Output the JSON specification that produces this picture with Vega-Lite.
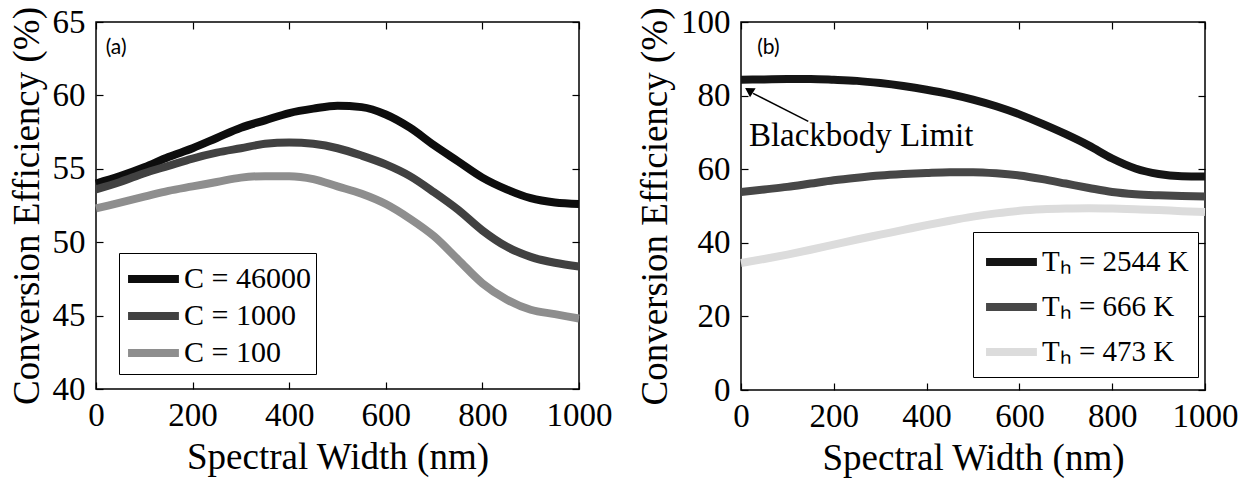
{
  "$schema": "https://vega.github.io/schema/vega-lite/v6.json",
  "background": "white",
  "padding": {"left": 7, "top": 5, "right": 5, "bottom": 5},
  "spacing": 22,
  "config": {
    "font": "Liberation Serif",
    "view": {"stroke": "black", "strokeWidth": 1.5},
    "axis": {
      "grid": false,
      "domain": false,
      "tickColor": "black",
      "tickSize": -7,
      "tickWidth": 1.2,
      "labelFont": "Liberation Serif",
      "labelFontSize": 33,
      "labelColor": "black",
      "labelPadding": 18,
      "labelOverlap": false,
      "labelFlush": false,
      "format": "d",
      "titleFont": "Liberation Serif",
      "titleFontSize": 37,
      "titleFontWeight": "normal",
      "titleColor": "black"
    },
    "axisY": {"titlePadding": 6},
    "axisX": {"titlePadding": 7, "labelPadding": 17},
    "legend": {
      "title": null,
      "orient": "none",
      "symbolType": "M-1,0H2",
      "symbolStrokeWidth": 8,
      "symbolSize": 1150,
      "labelFont": "Liberation Serif",
      "labelFontSize": 30,
      "labelColor": "black",
      "labelOffset": 18,
      "rowPadding": 0,
      "padding": 7,
      "strokeColor": "black",
      "fillColor": "white",
      "symbolOpacity": 1
    }
  },
  "datasets": {
    "a": [
      {"w":0,"eff":54.0,"s":"C = 46000"},{"w":50,"eff":54.5,"s":"C = 46000"},{"w":100,"eff":55.1,"s":"C = 46000"},{"w":150,"eff":55.8,"s":"C = 46000"},{"w":200,"eff":56.4,"s":"C = 46000"},{"w":250,"eff":57.1,"s":"C = 46000"},{"w":300,"eff":57.8,"s":"C = 46000"},{"w":350,"eff":58.3,"s":"C = 46000"},{"w":400,"eff":58.8,"s":"C = 46000"},{"w":450,"eff":59.1,"s":"C = 46000"},{"w":500,"eff":59.3,"s":"C = 46000"},{"w":550,"eff":59.2,"s":"C = 46000"},{"w":600,"eff":58.7,"s":"C = 46000"},{"w":650,"eff":57.8,"s":"C = 46000"},{"w":700,"eff":56.6,"s":"C = 46000"},{"w":750,"eff":55.5,"s":"C = 46000"},{"w":800,"eff":54.4,"s":"C = 46000"},{"w":850,"eff":53.6,"s":"C = 46000"},{"w":900,"eff":53.0,"s":"C = 46000"},{"w":950,"eff":52.7,"s":"C = 46000"},{"w":1000,"eff":52.6,"s":"C = 46000"},
      {"w":0,"eff":53.6,"s":"C = 1000"},{"w":50,"eff":54.1,"s":"C = 1000"},{"w":100,"eff":54.7,"s":"C = 1000"},{"w":150,"eff":55.2,"s":"C = 1000"},{"w":200,"eff":55.7,"s":"C = 1000"},{"w":250,"eff":56.1,"s":"C = 1000"},{"w":300,"eff":56.4,"s":"C = 1000"},{"w":350,"eff":56.7,"s":"C = 1000"},{"w":400,"eff":56.8,"s":"C = 1000"},{"w":450,"eff":56.7,"s":"C = 1000"},{"w":500,"eff":56.4,"s":"C = 1000"},{"w":550,"eff":55.9,"s":"C = 1000"},{"w":600,"eff":55.3,"s":"C = 1000"},{"w":650,"eff":54.5,"s":"C = 1000"},{"w":700,"eff":53.4,"s":"C = 1000"},{"w":750,"eff":52.2,"s":"C = 1000"},{"w":800,"eff":50.8,"s":"C = 1000"},{"w":850,"eff":49.7,"s":"C = 1000"},{"w":900,"eff":49.0,"s":"C = 1000"},{"w":950,"eff":48.6,"s":"C = 1000"},{"w":1000,"eff":48.35,"s":"C = 1000"},
      {"w":0,"eff":52.3,"s":"C = 100"},{"w":50,"eff":52.7,"s":"C = 100"},{"w":100,"eff":53.1,"s":"C = 100"},{"w":150,"eff":53.5,"s":"C = 100"},{"w":200,"eff":53.8,"s":"C = 100"},{"w":250,"eff":54.1,"s":"C = 100"},{"w":300,"eff":54.4,"s":"C = 100"},{"w":350,"eff":54.5,"s":"C = 100"},{"w":400,"eff":54.5,"s":"C = 100"},{"w":450,"eff":54.3,"s":"C = 100"},{"w":500,"eff":53.8,"s":"C = 100"},{"w":550,"eff":53.3,"s":"C = 100"},{"w":600,"eff":52.6,"s":"C = 100"},{"w":650,"eff":51.6,"s":"C = 100"},{"w":700,"eff":50.4,"s":"C = 100"},{"w":750,"eff":48.8,"s":"C = 100"},{"w":800,"eff":47.2,"s":"C = 100"},{"w":850,"eff":46.1,"s":"C = 100"},{"w":900,"eff":45.4,"s":"C = 100"},{"w":950,"eff":45.1,"s":"C = 100"},{"w":1000,"eff":44.8,"s":"C = 100"}
    ],
    "b": [
      {"w":0,"eff":84.3,"s":"Tₕ = 2544 K"},{"w":50,"eff":84.4,"s":"Tₕ = 2544 K"},{"w":100,"eff":84.5,"s":"Tₕ = 2544 K"},{"w":150,"eff":84.5,"s":"Tₕ = 2544 K"},{"w":200,"eff":84.3,"s":"Tₕ = 2544 K"},{"w":250,"eff":84.0,"s":"Tₕ = 2544 K"},{"w":300,"eff":83.4,"s":"Tₕ = 2544 K"},{"w":350,"eff":82.6,"s":"Tₕ = 2544 K"},{"w":400,"eff":81.6,"s":"Tₕ = 2544 K"},{"w":450,"eff":80.4,"s":"Tₕ = 2544 K"},{"w":500,"eff":78.9,"s":"Tₕ = 2544 K"},{"w":550,"eff":77.1,"s":"Tₕ = 2544 K"},{"w":600,"eff":74.9,"s":"Tₕ = 2544 K"},{"w":650,"eff":72.3,"s":"Tₕ = 2544 K"},{"w":700,"eff":69.5,"s":"Tₕ = 2544 K"},{"w":750,"eff":66.4,"s":"Tₕ = 2544 K"},{"w":800,"eff":62.9,"s":"Tₕ = 2544 K"},{"w":850,"eff":60.2,"s":"Tₕ = 2544 K"},{"w":900,"eff":58.7,"s":"Tₕ = 2544 K"},{"w":950,"eff":58.1,"s":"Tₕ = 2544 K"},{"w":1000,"eff":58.0,"s":"Tₕ = 2544 K"},
      {"w":0,"eff":53.8,"s":"Tₕ = 666 K"},{"w":50,"eff":54.5,"s":"Tₕ = 666 K"},{"w":100,"eff":55.2,"s":"Tₕ = 666 K"},{"w":150,"eff":56.1,"s":"Tₕ = 666 K"},{"w":200,"eff":57.0,"s":"Tₕ = 666 K"},{"w":250,"eff":57.7,"s":"Tₕ = 666 K"},{"w":300,"eff":58.3,"s":"Tₕ = 666 K"},{"w":350,"eff":58.7,"s":"Tₕ = 666 K"},{"w":400,"eff":59.0,"s":"Tₕ = 666 K"},{"w":450,"eff":59.2,"s":"Tₕ = 666 K"},{"w":500,"eff":59.2,"s":"Tₕ = 666 K"},{"w":550,"eff":58.9,"s":"Tₕ = 666 K"},{"w":600,"eff":58.3,"s":"Tₕ = 666 K"},{"w":650,"eff":57.3,"s":"Tₕ = 666 K"},{"w":700,"eff":56.1,"s":"Tₕ = 666 K"},{"w":750,"eff":54.9,"s":"Tₕ = 666 K"},{"w":800,"eff":53.8,"s":"Tₕ = 666 K"},{"w":850,"eff":53.2,"s":"Tₕ = 666 K"},{"w":900,"eff":52.9,"s":"Tₕ = 666 K"},{"w":950,"eff":52.7,"s":"Tₕ = 666 K"},{"w":1000,"eff":52.6,"s":"Tₕ = 666 K"},
      {"w":0,"eff":34.5,"s":"Tₕ = 473 K"},{"w":50,"eff":35.6,"s":"Tₕ = 473 K"},{"w":100,"eff":36.8,"s":"Tₕ = 473 K"},{"w":150,"eff":38.1,"s":"Tₕ = 473 K"},{"w":200,"eff":39.5,"s":"Tₕ = 473 K"},{"w":250,"eff":40.9,"s":"Tₕ = 473 K"},{"w":300,"eff":42.2,"s":"Tₕ = 473 K"},{"w":350,"eff":43.5,"s":"Tₕ = 473 K"},{"w":400,"eff":44.8,"s":"Tₕ = 473 K"},{"w":450,"eff":46.0,"s":"Tₕ = 473 K"},{"w":500,"eff":47.1,"s":"Tₕ = 473 K"},{"w":550,"eff":48.0,"s":"Tₕ = 473 K"},{"w":600,"eff":48.7,"s":"Tₕ = 473 K"},{"w":650,"eff":49.1,"s":"Tₕ = 473 K"},{"w":700,"eff":49.3,"s":"Tₕ = 473 K"},{"w":750,"eff":49.4,"s":"Tₕ = 473 K"},{"w":800,"eff":49.3,"s":"Tₕ = 473 K"},{"w":850,"eff":49.1,"s":"Tₕ = 473 K"},{"w":900,"eff":48.9,"s":"Tₕ = 473 K"},{"w":950,"eff":48.6,"s":"Tₕ = 473 K"},{"w":1000,"eff":48.4,"s":"Tₕ = 473 K"}
    ]
  },
  "hconcat": [
    {
      "width": 483,
      "height": 367,
      "layer": [
        {
          "data": {"name": "a"},
          "mark": {"type": "line", "strokeWidth": 8, "interpolate": "monotone"},
          "encoding": {
            "x": {"field": "w", "type": "quantitative", "scale": {"domain": [0, 1000], "nice": false}, "axis": {"values": [0, 200, 400, 600, 800, 1000], "title": "Spectral Width (nm)"}},
            "y": {"field": "eff", "type": "quantitative", "scale": {"domain": [40, 65], "nice": false}, "axis": {"values": [40, 45, 50, 55, 60, 65], "title": "Conversion Efficiency (%)"}},
            "color": {"field": "s", "type": "nominal", "sort": ["C = 46000", "C = 1000", "C = 100"], "scale": {"domain": ["C = 46000", "C = 1000", "C = 100"], "range": ["#0d0d0d", "#414141", "#8e8e8e"]}, "legend": {"legendX": 23, "legendY": 231, "padding": 5, "rowPadding": -3}}
          }
        },
        {
          "data": {"name": "a"},
          "mark": {"type": "point", "opacity": 0},
          "encoding": {
            "x": {"field": "w", "type": "quantitative", "scale": {"domain": [0, 1000], "nice": false}, "axis": {"orient": "top", "values": [0, 200, 400, 600, 800, 1000], "labels": false, "title": null}},
            "y": {"field": "eff", "type": "quantitative", "scale": {"domain": [40, 65], "nice": false}, "axis": {"orient": "right", "values": [40, 45, 50, 55, 60, 65], "labels": false, "title": null}}
          }
        },
        {
          "data": {"values": [{"t": "(a)", "w": 20, "eff": 63.2}]},
          "mark": {"type": "text", "font": "Lato", "fontSize": 21, "align": "left", "baseline": "middle", "color": "black"},
          "encoding": {
            "x": {"field": "w", "type": "quantitative", "scale": {"domain": [0, 1000], "nice": false}, "axis": null},
            "y": {"field": "eff", "type": "quantitative", "scale": {"domain": [40, 65], "nice": false}, "axis": null},
            "text": {"field": "t"}
          }
        }
      ],
      "resolve": {"axis": {"x": "independent", "y": "independent"}}
    },
    {
      "width": 464,
      "height": 368,
      "layer": [
        {
          "data": {"name": "b"},
          "mark": {"type": "line", "strokeWidth": 8, "interpolate": "monotone"},
          "encoding": {
            "x": {"field": "w", "type": "quantitative", "scale": {"domain": [0, 1000], "nice": false}, "axis": {"values": [0, 200, 400, 600, 800, 1000], "title": "Spectral Width (nm)"}},
            "y": {"field": "eff", "type": "quantitative", "scale": {"domain": [0, 100], "nice": false}, "axis": {"values": [0, 20, 40, 60, 80, 100], "title": "Conversion Efficiency (%)"}},
            "color": {"field": "s", "type": "nominal", "sort": ["Tₕ = 2544 K", "Tₕ = 666 K", "Tₕ = 473 K"], "scale": {"domain": ["Tₕ = 2544 K", "Tₕ = 666 K", "Tₕ = 473 K"], "range": ["#151515", "#474747", "#dcdcdc"]}, "legend": {"legendX": 232, "legendY": 210, "rowPadding": 8, "padding": 9, "labelFontSize": 29}}
          }
        },
        {
          "data": {"name": "b"},
          "mark": {"type": "point", "opacity": 0},
          "encoding": {
            "x": {"field": "w", "type": "quantitative", "scale": {"domain": [0, 1000], "nice": false}, "axis": {"orient": "top", "values": [0, 200, 400, 600, 800, 1000], "labels": false, "title": null}},
            "y": {"field": "eff", "type": "quantitative", "scale": {"domain": [0, 100], "nice": false}, "axis": {"orient": "right", "values": [0, 20, 40, 60, 80, 100], "labels": false, "title": null}}
          }
        },
        {
          "data": {"values": [{"w": 145, "eff": 73, "w2": 26, "eff2": 80.6}]},
          "mark": {"type": "rule", "color": "black", "strokeWidth": 1.5},
          "encoding": {
            "x": {"field": "w", "type": "quantitative", "scale": {"domain": [0, 1000], "nice": false}, "axis": null},
            "y": {"field": "eff", "type": "quantitative", "scale": {"domain": [0, 100], "nice": false}, "axis": null},
            "x2": {"field": "w2"},
            "y2": {"field": "eff2"}
          }
        },
        {
          "data": {"values": [{"w": 20, "eff": 81.2}]},
          "mark": {"type": "point", "shape": "triangle", "filled": true, "color": "black", "size": 110, "angle": 302, "opacity": 1},
          "encoding": {
            "x": {"field": "w", "type": "quantitative", "scale": {"domain": [0, 1000], "nice": false}, "axis": null},
            "y": {"field": "eff", "type": "quantitative", "scale": {"domain": [0, 100], "nice": false}, "axis": null}
          }
        },
        {
          "data": {"values": [{"t": "Blackbody Limit", "w": 17, "eff": 69}]},
          "mark": {"type": "text", "font": "Liberation Serif", "fontSize": 33, "align": "left", "baseline": "middle", "color": "black"},
          "encoding": {
            "x": {"field": "w", "type": "quantitative", "scale": {"domain": [0, 1000], "nice": false}, "axis": null},
            "y": {"field": "eff", "type": "quantitative", "scale": {"domain": [0, 100], "nice": false}, "axis": null},
            "text": {"field": "t"}
          }
        },
        {
          "data": {"values": [{"t": "(b)", "w": 35, "eff": 93}]},
          "mark": {"type": "text", "font": "Lato", "fontSize": 21, "align": "left", "baseline": "middle", "color": "black"},
          "encoding": {
            "x": {"field": "w", "type": "quantitative", "scale": {"domain": [0, 1000], "nice": false}, "axis": null},
            "y": {"field": "eff", "type": "quantitative", "scale": {"domain": [0, 100], "nice": false}, "axis": null},
            "text": {"field": "t"}
          }
        }
      ],
      "resolve": {"axis": {"x": "independent", "y": "independent"}}
    }
  ],
  "resolve": {"scale": {"color": "independent"}, "legend": {"color": "independent"}}
}
